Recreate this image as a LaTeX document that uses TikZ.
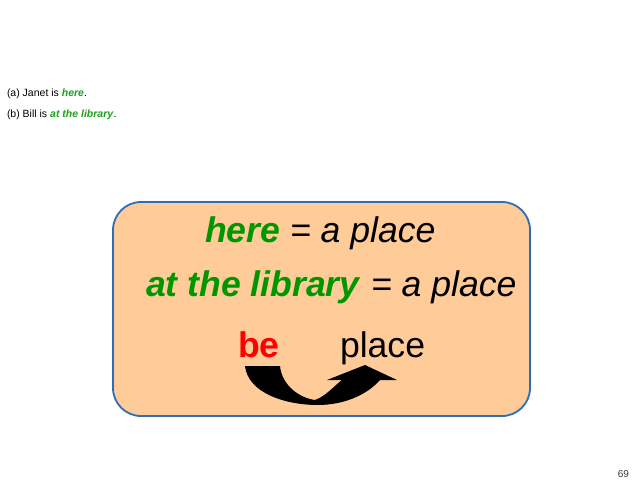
\documentclass[tikz,border=0pt]{standalone}
\usepackage{fontspec}
\setmainfont{Liberation Sans}
\definecolor{boxfill}{RGB}{255,204,153}
\definecolor{boxline}{RGB}{46,110,182}
\definecolor{grn}{RGB}{0,150,0}
\definecolor{sgrn}{RGB}{30,160,30}
\definecolor{numgray}{RGB}{60,60,60}
\begin{document}
\begin{tikzpicture}[x=1pt,y=-1pt,
  txt/.style={anchor=base west,inner sep=0pt,outer sep=0pt},
  small/.style={txt,font=\fontsize{10.5}{12}\selectfont},
  big/.style={txt,font=\fontsize{35.6}{42}\selectfont},
  hi/.style={text=grn}]
\useasboundingbox (0,0) rectangle (640,480);
\fill[white] (0,0) rectangle (640,480);
\node[small] (a) at (7,96) {(a) Janet is \textcolor{sgrn}{\textbf{\textit{here}}\/}.};
\node[small] (b) at (7,117) {(b) Bill is \textcolor{sgrn}{\textbf{\textit{at the library}}\/}.};
\node[draw=boxline,line width=1.8pt,fill=boxfill,rounded corners=28pt,
  minimum width=417pt,minimum height=214pt,inner sep=0pt] (box) at (321.5,309) {};
\node[big] (l1) at (205,242) {\textcolor{grn}{\textbf{\textit{here}}} \textit{= a place}};
\node[big] (l2) at (146,296) {\textcolor{grn}{\textbf{\textit{at the library}}} \textit{= a place}};
\node[big,text=red] (be) at (238,357) {\textbf{be}};
\node[big] (place) at (340,357) {place};
\fill[black] (245,366) -- (280,366)
  .. controls (282,386) and (300,398) .. (315,400)
  .. controls (326,396) and (334,386) .. (342,380)
  -- (327,380) -- (365,365) -- (397,380) -- (380,380)
  .. controls (366,396) and (342,405) .. (318,405)
  .. controls (285,405) and (248,393) .. (245,366) -- cycle;
\node[txt,anchor=base east,font=\fontsize{10}{12}\selectfont,text=numgray] (pg) at (629,477) {69};
\end{tikzpicture}
\end{document}
